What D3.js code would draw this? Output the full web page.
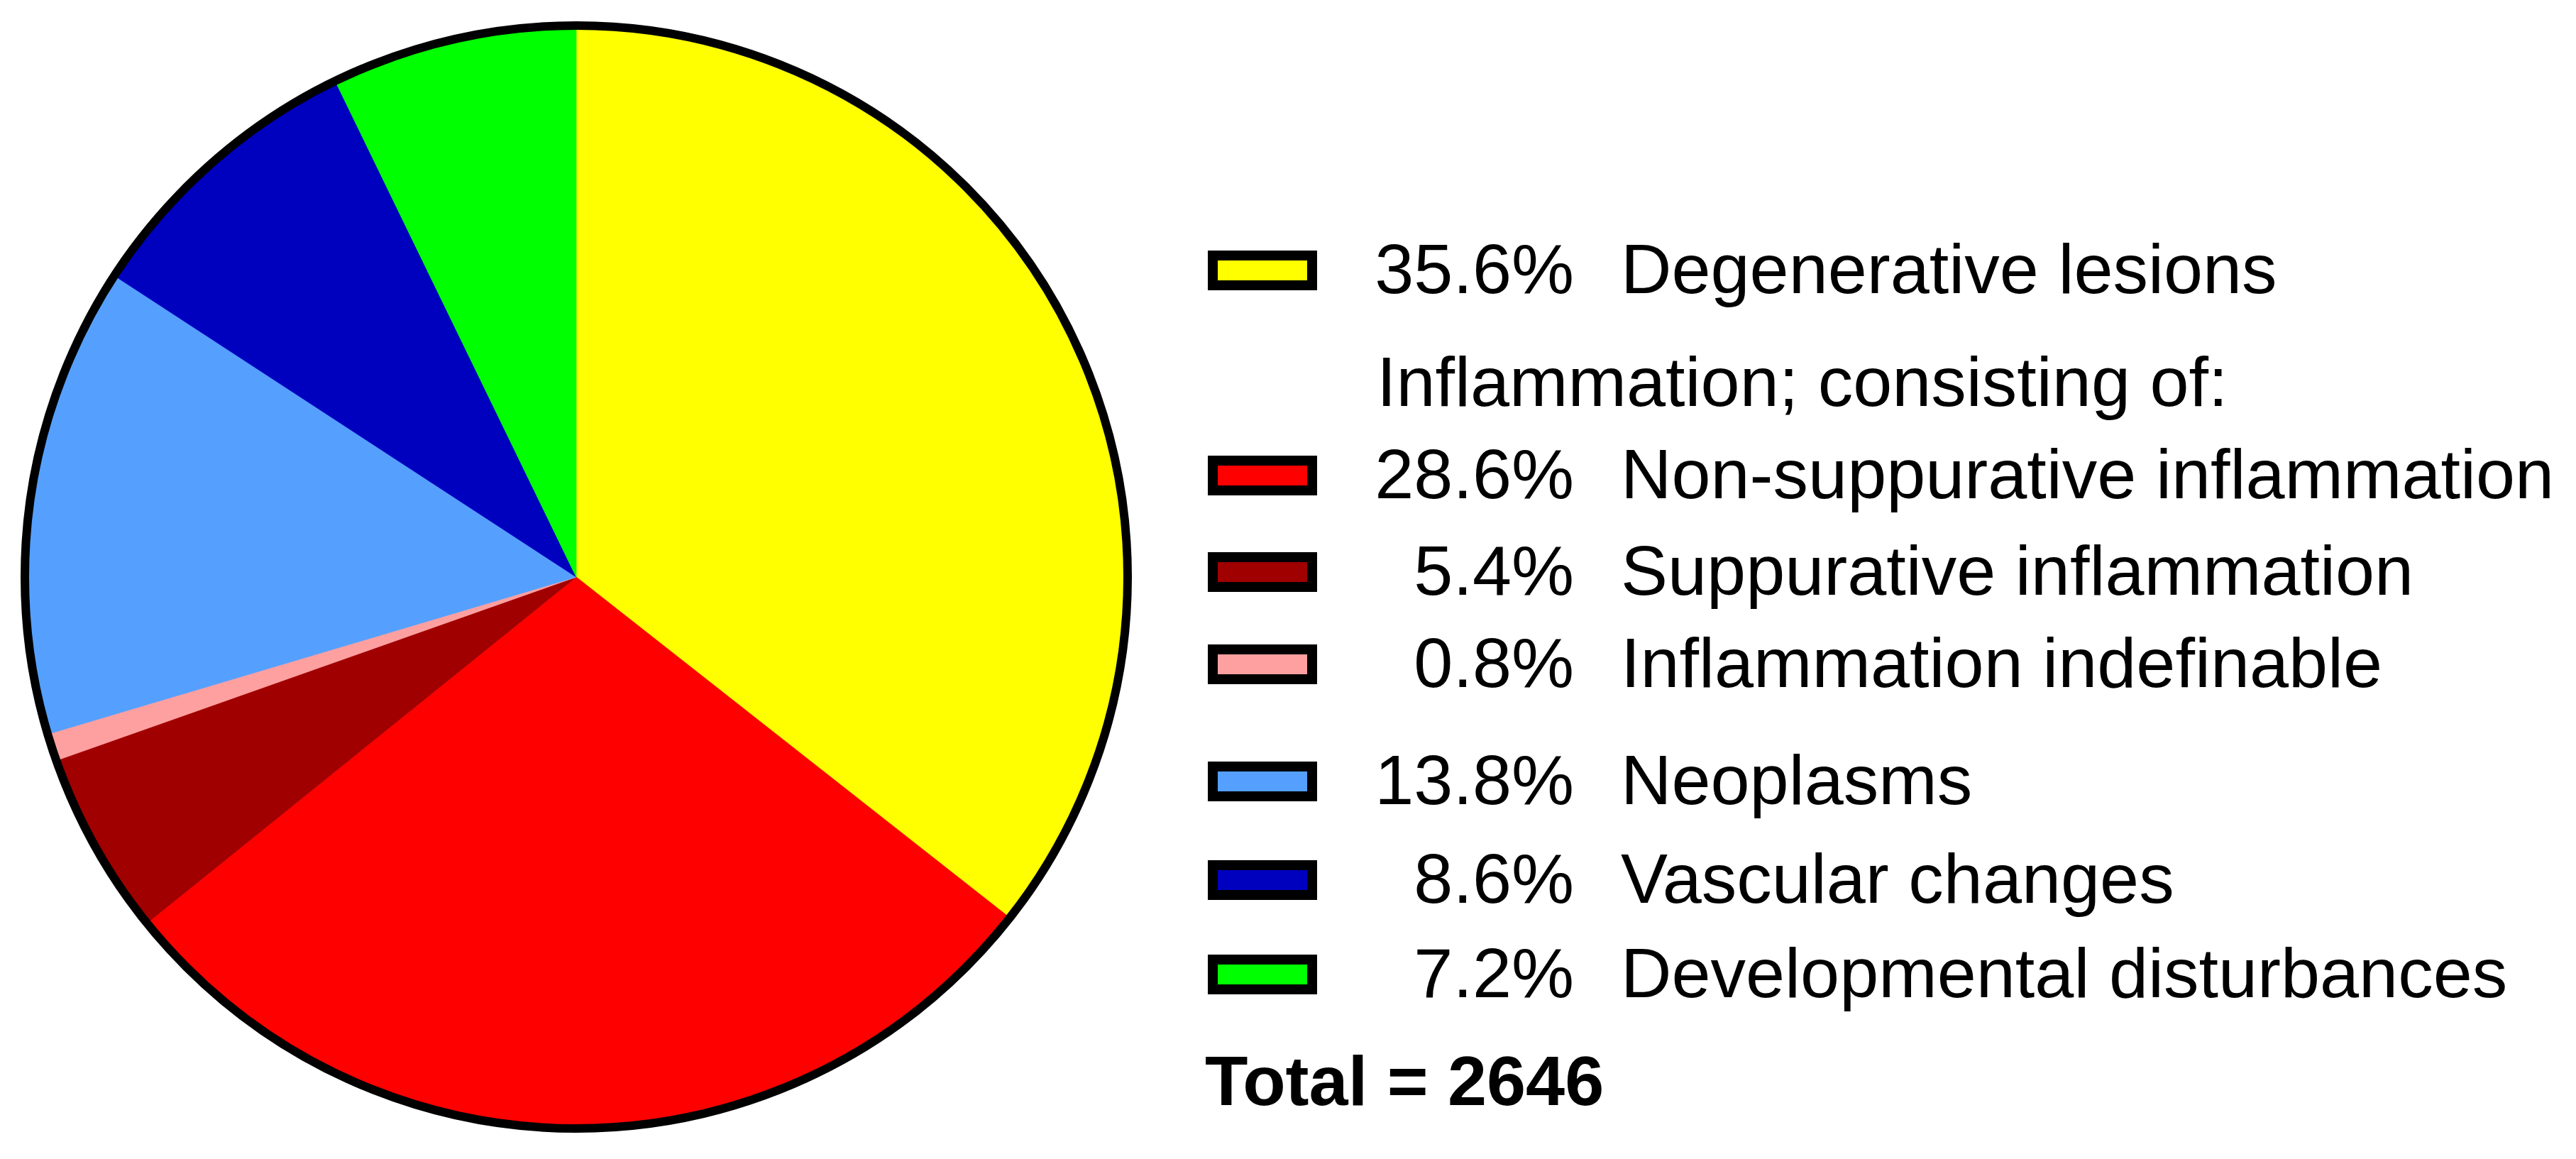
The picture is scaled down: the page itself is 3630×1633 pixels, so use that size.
<!DOCTYPE html>
<html>
<head>
<meta charset="utf-8">
<script src="https://cdn.jsdelivr.net/npm/d3@7"></script>
<style>
  html, body { margin: 0; padding: 0; background: #ffffff; }
  svg { display: block; }
  text { font-family: "Liberation Sans", Arial, sans-serif; fill: #000; }
</style>
</head>
<body>
<svg id="chart" width="3630" height="1633"></svg>
<script>
// ---- data ----
const categories = [
  "Degenerative lesions",
  "Non-suppurative inflammation",
  "Suppurative inflammation",
  "Inflammation indefinable",
  "Neoplasms",
  "Vascular changes",
  "Developmental disturbances"
];
const values = [35.6, 28.6, 5.4, 0.8, 13.8, 8.6, 7.2];
const colors = ["#FFFF00", "#FF0000", "#A00000", "#FFA0A0", "#55A0FF", "#0000BF", "#00FF00"];
const groupHeader = "Inflammation; consisting of:";
const totalLabel = "Total = 2646";

// ---- layout ----
const W = 3630, H = 1633;
const cx = 812, cy = 813, R = 777;
const fontSize = 99;
const rowBaselines = [413, 702, 838, 968, 1133, 1272, 1405];
const headerBaseline = 572;
const totalBaseline = 1557;

const svg = d3.select("#chart");

// ---- pie ----
const pie = d3.pie().sort(null).value(d => d).startAngle(0).endAngle(2 * Math.PI);
const arc = d3.arc().innerRadius(0).outerRadius(R);
const g = svg.append("g").attr("transform", `translate(${cx},${cy})`);
g.selectAll("path.slice")
  .data(pie(values))
  .join("path")
  .attr("class", "slice")
  .attr("d", arc)
  .attr("fill", (d, i) => colors[i])
  .attr("stroke", (d, i) => colors[i])
  .attr("stroke-width", 0.8);
g.append("circle")
  .attr("r", R)
  .attr("fill", "none")
  .attr("stroke", "#000")
  .attr("stroke-width", 12);

// ---- legend ----
const fmt = d3.format(".1f");
const swX = 1709, swW = 140, swH = 42, swStroke = 14;
const pctRight = 2218, labelX = 2284;

const rows = svg.append("g").selectAll("g.row")
  .data(categories)
  .join("g")
  .attr("class", "row");

rows.append("rect")
  .attr("x", swX)
  .attr("y", (d, i) => rowBaselines[i] - 32 - swH / 2)
  .attr("width", swW)
  .attr("height", swH)
  .attr("fill", (d, i) => colors[i])
  .attr("stroke", "#000")
  .attr("stroke-width", swStroke);

rows.append("text")
  .attr("x", pctRight)
  .attr("y", (d, i) => rowBaselines[i])
  .attr("text-anchor", "end")
  .attr("font-size", fontSize)
  .text((d, i) => fmt(values[i]) + "%");

rows.append("text")
  .attr("x", labelX)
  .attr("y", (d, i) => rowBaselines[i])
  .attr("font-size", fontSize)
  .text(d => d);

svg.append("text")
  .attr("x", 1940)
  .attr("y", headerBaseline)
  .attr("font-size", fontSize)
  .text(groupHeader);

svg.append("text")
  .attr("x", 1698)
  .attr("y", totalBaseline)
  .attr("font-size", fontSize)
  .attr("font-weight", "bold")
  .text(totalLabel);
</script>
</body>
</html>
